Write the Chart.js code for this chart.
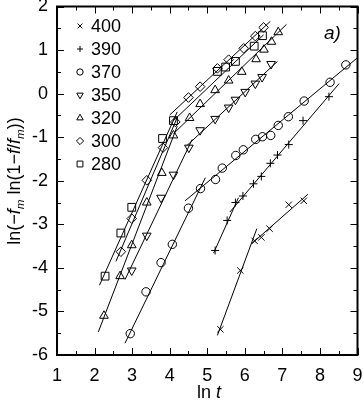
<!DOCTYPE html>
<html lang="en">
  <head>
    <meta charset="UTF-8" />
    <title>ln t plot</title>
    <style>
      body { margin: 0; background: #fff; }
    </style>
  </head>
  <body>
    <canvas id="lnChart" width="364" height="401"></canvas>
    <script src="https://cdn.jsdelivr.net/npm/chart.js"></script>
    <script>
      // temperatures shown in the legend
      const temps = ["400", "390", "370", "350", "320", "300", "280"];

      // measured points [ln t, ln(-fm ln(1-f/fm))]
      const pts400 = [[5.35, -5.41], [5.88, -4.06], [6.26, -3.38], [6.44, -3.30], [6.66, -3.10], [7.17, -2.55], [7.57, -2.46]];
      const pts390 = [[5.21, -3.60], [5.53, -2.91], [5.75, -2.50], [5.95, -2.35], [6.23, -2.07], [6.44, -1.90], [6.68, -1.60], [6.87, -1.41], [7.17, -1.17], [7.55, -0.62], [8.24, -0.07]];
      const pts370 = [[2.95, -5.51], [3.37, -4.55], [3.77, -3.88], [4.07, -3.46], [4.50, -2.63], [4.82, -2.18], [5.22, -1.97], [5.40, -1.71], [5.76, -1.42], [5.96, -1.29], [6.29, -1.05], [6.47, -0.99], [6.69, -0.96], [6.89, -0.73], [7.16, -0.53], [7.58, -0.17], [8.27, 0.26], [8.69, 0.66]];
      const pts350 = [[2.99, -4.06], [3.39, -3.26], [3.77, -2.39], [4.10, -1.86], [4.51, -1.24], [4.81, -0.84], [5.21, -0.58], [5.57, -0.32], [5.75, -0.14], [6.01, 0.04], [6.28, 0.23], [6.46, 0.38], [6.70, 0.68]];
      const pts320 = [[2.25, -5.10], [2.68, -4.19], [2.99, -3.48], [3.39, -2.50], [3.79, -1.82], [4.10, -0.96], [4.53, -0.56], [4.81, -0.24], [5.21, 0.08], [5.57, 0.30], [5.92, 0.50], [6.30, 0.79], [6.51, 1.01], [6.71, 1.19], [6.89, 1.41]];
      const pts300 = [[2.70, -3.63], [2.99, -2.87], [3.39, -1.99], [3.82, -1.24], [4.15, -0.65], [4.50, -0.09], [4.81, 0.16], [5.27, 0.58], [5.57, 0.78], [5.97, 1.04], [6.28, 1.32], [6.50, 1.52]];
      const pts280 = [[2.28, -4.19], [2.70, -3.20], [2.99, -2.61], [3.81, -1.03], [4.10, -0.62], [5.27, 0.51], [5.49, 0.61], [5.75, 0.74], [6.25, 1.09], [6.47, 1.33]];

      // fitted straight segments, each [start, end]
      const fit400 = [[[5.27, -5.55], [6.32, -3.10]], [[6.19, -3.44], [7.68, -2.31]]];
      const fit390 = [[[5.17, -3.66], [5.83, -2.39]], [[5.60, -2.72], [8.51, 0.23]]];
      const fit370 = [[[2.81, -5.73], [4.95, -1.93]], [[4.41, -2.46], [9.05, 0.86]]];
      const fit350 = [[[2.81, -4.27], [4.60, -1.05]], [[4.45, -1.20], [6.87, 0.74]]];
      const fit320 = [[[2.10, -5.47], [4.20, -0.75]], [[4.10, -0.92], [7.11, 1.59]]];
      const fit300 = [[[2.57, -3.85], [4.20, -0.55]], [[4.00, -0.49], [6.68, 1.66]]];
      const fit280 = [[[2.13, -4.40], [4.20, -0.42]], [[4.10, -0.62], [6.50, 1.35]]];

      const xTicks = [1, 2, 3, 4, 5, 6, 7, 8, 9];
      const yTicks = [-6, -5, -4, -3, -2, -1, 0, 1, 2];

      const allPts = [pts400, pts390, pts370, pts350, pts320, pts300, pts280];
      const allFits = [fit400, fit390, fit370, fit350, fit320, fit300, fit280];

      const markers = [
        { pointStyle: "crossRot", rotation: 0, radius: 4.5 },
        { pointStyle: "cross", rotation: 0, radius: 4 },
        { pointStyle: "circle", rotation: 0, radius: 4.2 },
        { pointStyle: "triangle", rotation: 180, radius: 5 },
        { pointStyle: "triangle", rotation: 0, radius: 5 },
        { pointStyle: "rectRot", rotation: 0, radius: 4.8 },
        { pointStyle: "rect", rotation: 0, radius: 5.5 },
      ];

      const FONT = "'Liberation Sans', Arial, sans-serif";

      const datasets = [];
      temps.forEach(function (t, i) {
        allFits[i].forEach(function (seg) {
          datasets.push({
            label: "",
            data: seg.map((p) => ({ x: p[0], y: p[1] })),
            showLine: true,
            borderColor: "#000",
            borderWidth: 1,
            pointRadius: 0,
            fill: false,
          });
        });
        datasets.push({
          label: t,
          data: allPts[i].map((p) => ({ x: p[0], y: p[1] })),
          showLine: false,
          pointStyle: markers[i].pointStyle,
          rotation: markers[i].rotation,
          pointRadius: markers[i].radius,
          pointBorderWidth: 1,
          pointBorderColor: "#000",
          pointBackgroundColor: "rgba(0,0,0,0)",
        });
      });

      function drawRich(ctx, parts, size) {
        // parts: [text, italic, sub]
        let w = 0;
        parts.forEach(function (p) {
          ctx.font = (p[1] ? "italic " : "") + (p[2] ? size * 0.65 : size) + "px " + FONT;
          p.w = ctx.measureText(p[0]).width;
          w += p.w;
        });
        let cx = -w / 2;
        parts.forEach(function (p) {
          ctx.font = (p[1] ? "italic " : "") + (p[2] ? size * 0.65 : size) + "px " + FONT;
          ctx.fillText(p[0], cx, p[2] ? size * 0.22 : 0);
          cx += p.w;
        });
      }

      const decor = {
        id: "decor",
        afterDatasetsDraw(chart) {
          const ctx = chart.ctx;
          const a = chart.chartArea;
          const xs = chart.scales.x;
          const ys = chart.scales.y;
          ctx.save();
          ctx.strokeStyle = "#000";
          ctx.fillStyle = "#000";

          // inward ticks on four sides, minor at halves
          ctx.lineWidth = 1;
          ctx.beginPath();
          for (let v = xTicks[0]; v <= xTicks[xTicks.length - 1]; v += 0.5) {
            const px = Math.round(xs.getPixelForValue(v)) + 0.5;
            const len = v % 1 === 0 ? 7 : 4;
            ctx.moveTo(px, a.bottom);
            ctx.lineTo(px, a.bottom - len);
            ctx.moveTo(px, a.top);
            ctx.lineTo(px, a.top + len);
          }
          for (let v = yTicks[0]; v <= yTicks[yTicks.length - 1]; v += 0.5) {
            const py = Math.round(ys.getPixelForValue(v)) + 0.5;
            const len = v % 1 === 0 ? 7 : 4;
            ctx.moveTo(a.left, py);
            ctx.lineTo(a.left + len, py);
            ctx.moveTo(a.right, py);
            ctx.lineTo(a.right - len, py);
          }
          ctx.stroke();

          ctx.lineWidth = 2;
          ctx.strokeRect(a.left, a.top, a.right - a.left, a.bottom - a.top);

          // legend inside the plot
          ctx.lineWidth = 1;
          temps.forEach(function (t, i) {
            const ly = 26 + i * 23;
            ctx.fillStyle = "rgba(0,0,0,0)";
            ctx.strokeStyle = "#000";
            Chart.helpers.drawPoint(ctx, {
              pointStyle: markers[i].pointStyle,
              rotation: markers[i].rotation,
              radius: markers[i].radius * 0.75,
              borderWidth: 1,
            }, 80, ly);
            ctx.fillStyle = "#000";
            ctx.font = "18px " + FONT;
            ctx.textAlign = "left";
            ctx.textBaseline = "middle";
            ctx.fillText(t, 91, ly + 1);
          });

          // panel label
          ctx.font = "italic 19px " + FONT;
          ctx.textBaseline = "alphabetic";
          ctx.fillText("a)", 324, 39);
          ctx.restore();

          // axis titles
          ctx.save();
          ctx.fillStyle = "#000";
          ctx.textBaseline = "alphabetic";
          ctx.translate(209, 398);
          drawRich(ctx, [["ln ", false, false], ["t", true, false]], 18);
          ctx.restore();

          ctx.save();
          ctx.fillStyle = "#000";
          ctx.textBaseline = "alphabetic";
          ctx.translate(20, 181);
          ctx.rotate(-Math.PI / 2);
          drawRich(ctx, [
            ["ln(\u2212", false, false], ["f", true, false], ["m", true, true],
            [" ln(1\u2212", false, false], ["f", true, false], ["/", false, false],
            ["f", true, false], ["m", true, true], ["))", false, false],
          ], 18);
          ctx.restore();
        },
      };

      const chart = new Chart(document.getElementById("lnChart"), {
        type: "scatter",
        data: { datasets: datasets },
        options: {
          responsive: false,
          animation: false,
          devicePixelRatio: 1,
          layout: { padding: { top: 4, right: 5, left: 0, bottom: 0 } },
          plugins: { legend: { display: false }, tooltip: { enabled: false } },
          scales: {
            x: {
              type: "linear",
              min: 1,
              max: 9,
              afterBuildTicks: (s) => { s.ticks = xTicks.map((v) => ({ value: v })); },
              afterFit: (s) => {
                s.height = 46;
                s.paddingLeft = 0;
                s.paddingRight = 0;
              },
              grid: { display: false, drawTicks: false },
              border: { display: false },
              ticks: { color: "#000", font: { size: 18, family: FONT }, padding: 10, maxRotation: 0 },
            },
            y: {
              type: "linear",
              min: -6,
              max: 2,
              afterBuildTicks: (s) => { s.ticks = yTicks.map((v) => ({ value: v })); },
              afterFit: (s) => {
                s.width = 57;
                s.paddingTop = 0;
                s.paddingBottom = 0;
              },
              grid: { display: false, drawTicks: false },
              border: { display: false },
              ticks: { color: "#000", font: { size: 18, family: FONT }, padding: 9 },
            },
          },
        },
        plugins: [decor],
      });
    </script>
  </body>
</html>
